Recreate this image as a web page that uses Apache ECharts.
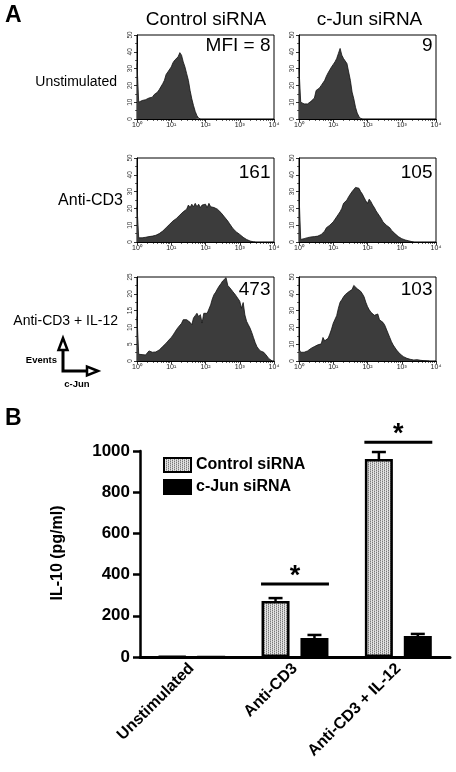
<!DOCTYPE html>
<html><head><meta charset="utf-8">
<script src="https://cdn.jsdelivr.net/npm/echarts@6/dist/echarts.min.js"></script>
<style>html,body{margin:0;padding:0;background:#fff}#c{width:456px;height:772px}</style>
</head><body><div id="c"></div>
<script>
// ---------- DATA ----------
// Panel A: flow histograms (events per channel, channels spaced 0.05 decade from 10^0)
const channelStep = 0.05;
const hUnstimCtrl = [33,10,10.5,11,10.5,11.5,12,12.5,13.5,13,14.5,15,16,17.5,18.5,21,23,26.5,28,29,31,33.5,35,35.5,37,39.5,38,34,31,27,23,17,12,8,4.5,2,0.5,0];
const hUnstimCjun = [30,10,9.5,9,8.5,9,10,10.5,11,12.5,17,16,18.5,20,20.5,23,25.5,27.5,28.5,31,32.5,34,36,39,42,38,36,35,33,28,23,16,12,7,3.5,1.5,0.3,0];
const hCD3Ctrl = [21,2.5,2.7,2.5,3,2.8,3,3.2,3,3.5,3.8,4,4.5,5,5.5,6.5,7.5,8.5,9.5,10.5,11.5,12.5,13.5,14,15,16,17,18,19,19.5,22,20.5,22.5,21,23,21,22.5,20.5,22,21,22.5,20.5,23,21,22,20.5,21,19.5,18.5,17.5,16.5,15,14,12.5,11,9.5,8,7,6,5,4.5,3.5,2.8,2,1.5,1,0.6,0.3,0.1,0];
const hCD3Cjun = [29,1.5,1.8,2,2.2,2.6,2.5,3,2.8,3.2,3,3.5,4,4.5,5,6.5,8.5,9,10,11,12,13.5,15,16.5,18,20,23,24,25,27,28.5,30,31,32.5,33.5,32,30,28.5,26.5,24.5,23,25.5,24,22,20.5,18.5,17.5,15.5,14,12,11,10,9.5,8.5,7,6,5,4,3.2,2.5,2,1.6,1.2,1,0.7,0.4,0.2,0];
const hIL12Ctrl = [13.2,2,2.4,1.9,2.4,1.8,2.2,3,2.9,2.6,2.5,2.7,3,3.3,3.8,4.3,4.8,5.3,5.9,6.3,7,7.7,8.5,9.3,10,10.4,11.2,12.3,12.2,12.3,11.8,11.5,10.8,12.8,13.5,14.2,13.2,13.8,11.3,14.2,14,14.2,14.7,16.7,18.5,19.8,20.5,21.5,22.3,23,23.8,24.3,24.8,22.5,22,21.3,20.6,20,19.3,18.8,17.8,15.7,17.4,13.7,11.8,10.8,9.8,8.5,7,5.5,4.3,3.6,3,2.9,2.6,2.2,1.4,0.7,0.2,0];
const hIL12Cjun = [7,5.2,4.8,5.2,5.5,6,6.6,7.5,7.8,8.6,9,9.6,10,10.2,14,12,12.8,13.5,16,19,22.5,21.5,27,31.4,35,36.5,38.2,39.5,40.5,41.2,41,42.5,45,44,43,42.5,41.5,40,38.2,35,32.4,30.5,29,28,27.2,26.5,28,24.5,24,23,21.5,19,16.5,14,11.5,9.5,8,6.5,5.5,4.2,3.3,2.6,2,1.6,1.3,1,0.8,0.6,0.5,0.8,1.5,0.4,0.3,0.2,0.2,0.1,0];
const mfiLabels = ['MFI = 8','9','161','105','473','103'];
const histYMax = [50,50,50,50,25,50];
const histYInterval = [10,10,10,10,5,10];
const histXTicks = ['10\u2070','10\u00b9','10\u00b2','10\u00b3','10\u2074'];
const columnTitles = ['Control siRNA','c-Jun siRNA'];
const rowTitles = ['Unstimulated','Anti-CD3','Anti-CD3 + IL-12'];

// Panel B: IL-10 ELISA
const categories = ['Unstimulated','Anti-CD3','Anti-CD3 + IL-12'];
const seriesNames = ['Control siRNA','c-Jun siRNA'];
const controlVals = [3, 272, 961];
const controlSem  = [0, 14, 34];
const cjunVals    = [0, 92, 102];
const cjunSem     = [0, 15, 10];
const sigCategoryIndex = [1, 2];
const sigLineVals = [354, 1043];

// ---------- LAYOUT / STYLE ----------
const FONT = '"Liberation Sans", Arial, Helvetica, sans-serif';
const histData = [hUnstimCtrl,hUnstimCjun,hCD3Ctrl,hCD3Cjun,hIL12Ctrl,hIL12Cjun];
const rowTop = [35,158,277], colLeft = [137,299], HW = 137, HH = 84;
const BAR_W = 28, BAR_GAP_PCT = 39, BAR_OFF = (BAR_W + BAR_W*BAR_GAP_PCT/100)/2;

// minor log tick positions (2..9 x 10^n)
const minorTicks = [];
for (let d = 0; d < 4; d++) for (let k = 2; k <= 9; k++) minorTicks.push(d + Math.log10(k));

// stipple pattern (staggered dots)
const pc = document.createElement('canvas'); pc.width = 4; pc.height = 2;
const pg = pc.getContext('2d');
pg.fillStyle = '#e4e4e4'; pg.fillRect(0,0,4,2);
pg.fillStyle = '#7a7a7a'; pg.fillRect(0,0,1,1); pg.fillRect(2,1,1,1);
pg.fillStyle = '#b8b8b8'; pg.fillRect(2,0,1,1); pg.fillRect(0,1,1,1);
const stipple = {image: pc, repeat: 'repeat'};

const grids = [], xAxes = [], yAxes = [], series = [];
histData.forEach((d, i) => {
  const r = Math.floor(i/2), c = i % 2;
  grids.push({left: colLeft[c], top: rowTop[r], width: HW, height: HH, show: true, borderColor: '#000', borderWidth: 1, backgroundColor: '#fff'});
  xAxes.push({type:'value', gridIndex: i, min: 0, max: 4, interval: 1, position:'bottom',
    axisLine:{show:true, lineStyle:{color:'#000', width:1}},
    axisTick:{show:true, length:3, lineStyle:{color:'#000', width:0.8}},
    axisLabel:{fontSize:7, color:'#222', margin:3, fontFamily: FONT, formatter: v => histXTicks[Math.round(v)]},
    splitLine:{show:false}});
  xAxes.push({type:'value', gridIndex: i, min: 0, max: 4, position:'bottom',
    axisLine:{show:false}, axisLabel:{show:false}, splitLine:{show:false},
    axisTick:{show:true, length:2, customValues: minorTicks, lineStyle:{color:'#000', width:0.6}}});
  yAxes.push({type:'value', gridIndex: i, min: 0, max: histYMax[i], interval: histYInterval[i],
    axisLine:{show:true, lineStyle:{color:'#000', width:1}},
    axisTick:{show:true, length:3, lineStyle:{color:'#000', width:0.8}},
    minorTick:{show:true, splitNumber:2, length:2, lineStyle:{color:'#000', width:0.6}},
    axisLabel:{fontSize:6.5, color:'#333', rotate:90, margin:3, fontFamily: FONT},
    splitLine:{show:false}});
  series.push({type:'line', xAxisIndex: 2*i, yAxisIndex: i, silent: true,
    data: d.map((v,k) => [k*channelStep, v]),
    showSymbol:false, symbol:'none', lineStyle:{color:'#111', width:0.8},
    areaStyle:{color:'#3c3c3c', opacity:1}, z:2});
});

// Bar chart grid
const BG = histData.length;
grids.push({left:140, top:451, right:6, height:206});
const BX = xAxes.length;
xAxes.push({type:'category', gridIndex: BG, data: categories, position:'bottom',
  axisLine:{show:true, lineStyle:{color:'#000', width:3}}, axisTick:{show:false},
  axisLabel:{rotate:45, interval:0, fontSize:16, fontWeight:'bold', color:'#000', margin:9, fontFamily: FONT}});
yAxes.push({type:'value', gridIndex: BG, min:0, max:1000, interval:200,
  axisLine:{show:true, lineStyle:{color:'#000', width:2.5}},
  axisTick:{show:true, length:7, lineStyle:{color:'#000', width:2.5}},
  axisLabel:{fontSize:17, fontWeight:'bold', color:'#000', margin:10, fontFamily: FONT, formatter: v => String(v)},
  splitLine:{show:false}});
const BY = yAxes.length - 1;

series.push({name: seriesNames[0], type:'bar', xAxisIndex: BX, yAxisIndex: BY, data: controlVals,
  barWidth: BAR_W, barGap: BAR_GAP_PCT + '%',
  itemStyle:{color: stipple, borderColor:'#000', borderWidth:2.5}, z:2});
series.push({name: seriesNames[1], type:'bar', xAxisIndex: BX, yAxisIndex: BY, data: cjunVals,
  barWidth: BAR_W, itemStyle:{color:'#000', borderColor:'#000', borderWidth:2.5}, z:2});

function errRender(params, api){
  const sem = api.value(3); if (!sem) return null;
  const b = api.coord([api.value(0), api.value(1)]);
  const t = api.coord([api.value(0), api.value(1) + sem]);
  const x = b[0] + api.value(2) * BAR_OFF;
  return {type:'group', children:[
    {type:'line', shape:{x1:x, y1:b[1], x2:x, y2:t[1]}, style:{stroke:'#000', lineWidth:2.5}},
    {type:'line', shape:{x1:x-7, y1:t[1], x2:x+7, y2:t[1]}, style:{stroke:'#000', lineWidth:2.5}}
  ]};
}
series.push({type:'custom', xAxisIndex: BX, yAxisIndex: BY, silent:true, z:3, renderItem: errRender,
  data: categories.map((c,i) => [i, controlVals[i], -1, controlSem[i]])});
series.push({type:'custom', xAxisIndex: BX, yAxisIndex: BY, silent:true, z:3, renderItem: errRender,
  data: categories.map((c,i) => [i, cjunVals[i], 1, cjunSem[i]])});
series.push({type:'custom', xAxisIndex: BX, yAxisIndex: BY, silent:true, z:3, clip:false,
  renderItem: (params, api) => {
    const p = api.coord([api.value(0), api.value(1)]);
    const hw = BAR_W + BAR_OFF - BAR_W/2;
    return {type:'group', children:[
      {type:'line', shape:{x1:p[0]-hw-0.5, y1:p[1], x2:p[0]+hw+0.5, y2:p[1]}, style:{stroke:'#000', lineWidth:3}},
      {type:'text', x:p[0], y:p[1]+6, style:{text:'*', font:'bold 27px ' + FONT, fill:'#000', align:'center', verticalAlign:'bottom'}}
    ]};
  },
  data: sigCategoryIndex.map((c,i) => [c, sigLineVals[i]])});

// ---------- TEXT ----------
const graphics = [];
function txt(text, x, y, font, align, vAlign, rot){
  graphics.push({type:'text', x, y, rotation: rot || 0, silent:true,
    style:{text, font, fill:'#000', align: align || 'left', verticalAlign: vAlign || 'middle'}});
}
txt('A', 5, 16, 'bold 23px ' + FONT);
txt('B', 5, 419, 'bold 23px ' + FONT);
txt(columnTitles[0], 206, 20, '19px ' + FONT, 'center');
txt(columnTitles[1], 369.5, 20, '19px ' + FONT, 'center');
txt(rowTitles[0], 117, 82, '14px ' + FONT, 'right');
txt(rowTitles[1], 123, 201, '16px ' + FONT, 'right');
txt(rowTitles[2], 118, 321, '14px ' + FONT, 'right');
const mfiY = [46, 173, 290];
mfiLabels.forEach((m, i) => {
  const r = Math.floor(i/2), c = i % 2;
  txt(m, colLeft[c] + HW - 3.5, mfiY[r], '19px ' + FONT, 'right');
});
txt('IL-10 (pg/ml)', 58, 553, 'bold 16px ' + FONT, 'center', 'middle', Math.PI/2);
txt('Events', 57, 360, 'bold 9.5px ' + FONT, 'right');
txt('c-Jun', 77, 384, 'bold 9.5px ' + FONT, 'center');
graphics.push({type:'polyline', silent:true, shape:{points:[[63,350],[63,371],[88,371]]}, style:{stroke:'#000', lineWidth:3, fill:null}});
graphics.push({type:'polygon', silent:true, shape:{points:[[63,338],[58.5,350],[67.5,350]]}, style:{stroke:'#000', lineWidth:2.5, fill:'#fff', lineJoin:'miter'}});
graphics.push({type:'polygon', silent:true, shape:{points:[[98,371],[87,366.5],[87,375.5]]}, style:{stroke:'#000', lineWidth:2.5, fill:'#fff', lineJoin:'miter'}});

const chart = echarts.init(document.getElementById('c'), null, {renderer:'canvas'});
chart.setOption({
  animation:false,
  backgroundColor:'#fff',
  textStyle:{fontFamily: FONT},
  grid: grids, xAxis: xAxes, yAxis: yAxes, series,
  legend:{data: seriesNames, orient:'vertical', left:158, top:452, itemWidth:27, itemHeight:14, itemGap:6,
    icon:'rect', selectedMode:false,
    textStyle:{fontSize:16, fontWeight:'bold', color:'#000', fontFamily: FONT}},
  graphic: graphics
});
</script></body></html>
